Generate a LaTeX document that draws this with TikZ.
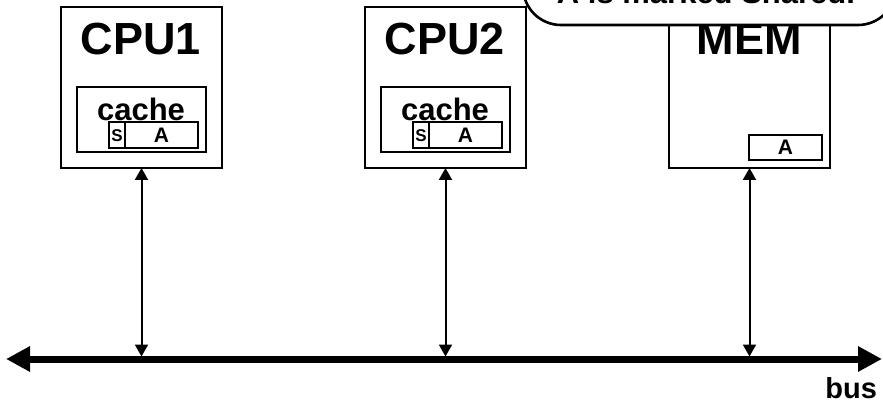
\documentclass[tikz,border=0pt]{standalone}
\usepackage{fontspec}
\setmainfont{Liberation Sans}
\usetikzlibrary{arrows.meta}
\begin{document}
\begin{tikzpicture}[x=1pt,y=-1pt,
  box/.style={draw, line width=2.6pt, inner sep=0pt, outer sep=0pt, fill=white},
  lbl/.style={inner sep=0pt, outer sep=0pt, anchor=base, font=\bfseries\fontsize{#1}{#1}\selectfont},
  conn/.style={line width=2pt, {Triangle[length=12pt,width=13pt]}-{Triangle[length=12pt,width=13pt]}},
  busline/.style={line width=7pt, {Triangle[length=24pt,width=24pt]}-{Triangle[length=24pt,width=24pt]}}
]
\useasboundingbox (0,0) rectangle (883,403);
\clip (0,0) rectangle (883,403);
% CPU1
\node[box, minimum width=161pt, minimum height=161pt] (cpu1) at (141.5,87.5) {};
\node[lbl=45] (cpu1lbl) at (141,55) {CPU1};
\node[box, minimum width=129pt, minimum height=65pt] (cache1) at (141.5,119.5) {};
\node[lbl=31] (cache1lbl) at (141,121) {cache};
\node[box, line width=2.2pt, minimum width=16pt, minimum height=26pt, fill=none] (s1) at (117,135) {};
\node[box, line width=2.2pt, minimum width=73pt, minimum height=26pt, fill=none] (a1) at (161.5,135) {};
\node[lbl=17] (s1lbl) at (s1 |- 0,142) {S};
\node[lbl=21] (a1lbl) at (a1 |- 0,143) {A};
% CPU2
\node[box, minimum width=161pt, minimum height=161pt] (cpu2) at (445.5,87.5) {};
\node[lbl=45] (cpu2lbl) at (445,55) {CPU2};
\node[box, minimum width=129pt, minimum height=65pt] (cache2) at (445.5,119.5) {};
\node[lbl=31] (cache2lbl) at (445,121) {cache};
\node[box, line width=2.2pt, minimum width=16pt, minimum height=26pt, fill=none] (s2) at (421,135) {};
\node[box, line width=2.2pt, minimum width=73pt, minimum height=26pt, fill=none] (a2) at (465.5,135) {};
\node[lbl=17] (s2lbl) at (s2 |- 0,142) {S};
\node[lbl=21] (a2lbl) at (a2 |- 0,143) {A};
% MEM
\node[box, minimum width=161pt, minimum height=161pt] (mem) at (749.5,87.5) {};
\node[lbl=45] (memlbl) at (749,55) {MEM};
\node[box, line width=2.2pt, minimum width=73pt, minimum height=25pt, fill=none] (am) at (785.5,147.5) {};
\node[lbl=21] (amlbl) at (am |- 0,155) {A};
% callout
\draw[line width=2.6pt, fill=white, rounded corners=38pt] (523,-60) rectangle (896,25);
\node[lbl=31] (note) at (706,4) {A is marked Shared.};
% bus
\coordinate (busL) at (6,359);
\coordinate (busR) at (882,359);
\coordinate (bustop) at (0,356.5);
\draw[busline] (busL) -- (busR);
\node[lbl=29, anchor=base east] (buslbl) at (877,398) {bus};
% connectors
\draw[conn] (cpu1.south) -- (cpu1.south |- bustop);
\draw[conn] (cpu2.south) -- (cpu2.south |- bustop);
\draw[conn] (mem.south) -- (mem.south |- bustop);
\end{tikzpicture}
\end{document}
